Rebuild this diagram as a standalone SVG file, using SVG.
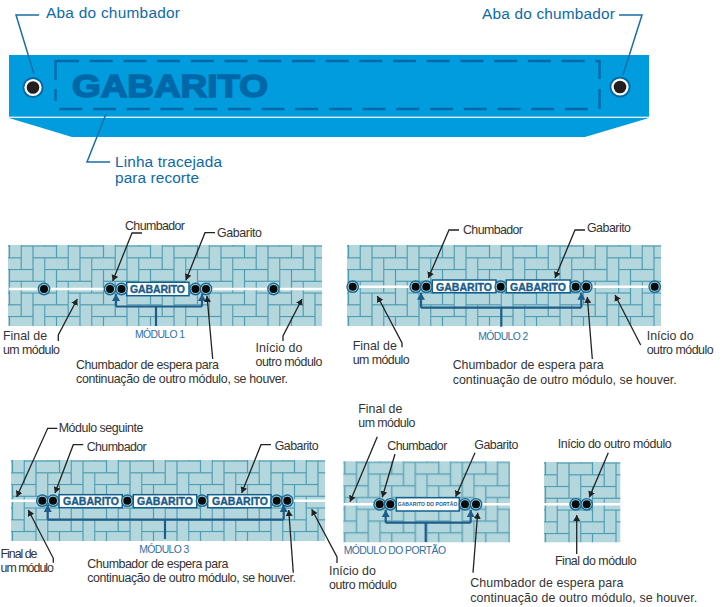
<svg xmlns="http://www.w3.org/2000/svg" width="728" height="607" viewBox="0 0 728 607">
<style>
text{font-family:"Liberation Sans",Arial,sans-serif}
.b{font-size:15.4px;fill:#0f69a8}
.k{font-size:12.4px;fill:#333}
.m{font-size:10.4px;fill:#2f6f9f}
.g{font-size:10.5px;font-weight:bold;fill:#1a5c8a;stroke:#1a5c8a;stroke-width:.35}
.box{fill:#fff;stroke:#125f8c;stroke-width:1.5}
.pave{fill:url(#bricks);filter:url(#soft)}
.wl{stroke:#fff;stroke-width:2.6;fill:none}
.lb{fill:none;stroke:#1a6ea8;stroke-width:1.5}
.lk{fill:none;stroke:#222;stroke-width:1.3;marker-end:url(#tip)}
.br{fill:none;stroke:#1f5c8a;stroke-width:2.2}
.ba{fill:none;stroke:#1f5c8a;stroke-width:2.2;marker-end:url(#btip)}
.dash{fill:none;stroke:#0068a8;stroke-width:2.4}
</style>
<defs>
<filter id="soft" x="0" y="0" width="1" height="1"><feGaussianBlur stdDeviation="0.45"/></filter>
<marker id="tip" markerUnits="userSpaceOnUse" markerWidth="8" markerHeight="8" refX="6" refY="3.5" orient="auto"><path d="M0 0L6 3.5L0 7Z" fill="#222"/></marker>
<marker id="btip" markerUnits="userSpaceOnUse" markerWidth="9" markerHeight="9" refX="7" refY="4" orient="auto"><path d="M0 0L7 4L0 8Z" fill="#1f5c8a"/></marker>
<pattern id="bricks" patternUnits="userSpaceOnUse" width="47" height="47" patternTransform="translate(25 1)">
<rect width="47" height="47" fill="#4f9db3"/>
<g fill="#b4d6dd">
<rect x=".6" y=".6" width="22.3" height="10.6"/>
<rect x="12.3" y="12.4" width="22.3" height="10.6"/>
<rect x="24.1" y="24.1" width="22.3" height="10.6"/>
<rect x="35.8" y="35.9" width="22.3" height="10.6"/>
<rect x="-11.2" y="35.9" width="22.3" height="10.6"/>
<rect x=".6" y="12.4" width="10.6" height="22.3"/>
<rect x="12.3" y="24.1" width="10.6" height="22.3"/>
<rect x="24.1" y="35.9" width="10.6" height="22.3"/>
<rect x="24.1" y="-11.1" width="10.6" height="22.3"/>
<rect x="35.8" y=".6" width="10.6" height="22.3"/>
</g>
</pattern>
<g id="bolt"><circle r="6.4" fill="#176a96"/><circle r="5" fill="#9fd0de"/><circle r="4" fill="#0a0a0a"/></g>
</defs>

<g id="gabarito-template">
<path d="M9 55H649V117H9Z" fill="#009cdd"/>
<path d="M9 118H649L585 137H72Z" fill="#009cdd"/>
<path d="M9 117H649" stroke="#a9def5" stroke-width="1"/>
<path class="dash" d="M56 61H600" stroke-dasharray="23 10.7"/>
<path class="dash" d="M59.3 109H598" stroke-dasharray="23 10.7"/>
<path class="dash" d="M55.5 60V80M55.5 89V101"/>
<path class="dash" d="M599.5 60V79M599.5 89V109"/>
<text x="72" y="97" font-size="32" font-weight="bold" fill="#0068a8" stroke="#0068a8" stroke-width="1.6" textLength="196" lengthAdjust="spacingAndGlyphs">GABARITO</text>
<circle cx="33" cy="87.5" r="10.5" fill="#0068a8"/><circle cx="33" cy="87.5" r="8.6" fill="#fff"/><circle cx="33" cy="87.5" r="6.3" fill="#231f20"/>
<circle cx="620" cy="87" r="10.5" fill="#0068a8"/><circle cx="620" cy="87" r="8.6" fill="#fff"/><circle cx="620" cy="87" r="6.3" fill="#231f20"/>
<text class="b" x="46" y="18" textLength="134">Aba do chumbador</text>
<text class="b" x="482" y="19" textLength="133">Aba do chumbador</text>
<text class="b" x="115" y="167" textLength="107">Linha tracejada</text>
<text class="b" x="115" y="183" textLength="84">para recorte</text>
</g>

<g id="modulo-1">
<g transform="translate(8 245)"><rect class="pave" width="314" height="81"/></g>
<path class="wl" d="M9 289H322"/>
<rect class="box" x="126.7" y="282.3" width="62.3" height="13.4"/>
<text class="g" x="130" y="293" textLength="55">GABARITO</text>
<use href="#bolt" x="44" y="289"/><use href="#bolt" x="110" y="289"/><use href="#bolt" x="121.5" y="289"/><use href="#bolt" x="195.5" y="289"/><use href="#bolt" x="206" y="289"/><use href="#bolt" x="273.5" y="289"/>
<text class="m" x="135" y="338" textLength="50">MÓDULO 1</text>
<text class="k" x="125" y="230" textLength="60">Chumbador</text>
<text class="k" x="217" y="237" textLength="45">Gabarito</text>
<text class="k" x="3" y="340">Final de</text>
<text class="k" x="3" y="354" textLength="57">um módulo</text>
<text class="k" x="255.5" y="352">Início do</text>
<text class="k" x="255.5" y="366" textLength="67">outro módulo</text>
<text class="k" x="76" y="369" textLength="143">Chumbador de espera para</text>
<text class="k" x="76" y="383" textLength="212">continuação de outro módulo, se houver.</text>
</g>

<g id="modulo-2">
<g transform="translate(347 245)"><rect class="pave" width="314" height="81"/></g>
<path class="wl" d="M359 286.7H650"/>
<rect class="box" x="432.3" y="280" width="63.7" height="12.7"/>
<rect class="box" x="506.3" y="280" width="64" height="12.7"/>
<text class="g" x="436" y="290.5" textLength="56">GABARITO</text>
<text class="g" x="510" y="290.5" textLength="56">GABARITO</text>
<use href="#bolt" x="352.7" y="286.7"/><use href="#bolt" x="415.7" y="286.7"/><use href="#bolt" x="426.3" y="286.7"/><use href="#bolt" x="500.7" y="286.7"/><use href="#bolt" x="575.7" y="286.7"/><use href="#bolt" x="586.3" y="286.7"/><use href="#bolt" x="654.7" y="286.7"/>
<text class="m" x="478.3" y="340" textLength="50">MÓDULO 2</text>
<text class="k" x="463" y="234" textLength="60">Chumbador</text>
<text class="k" x="587" y="232" textLength="44">Gabarito</text>
<text class="k" x="352.7" y="350">Final de</text>
<text class="k" x="352.7" y="364" textLength="57">um módulo</text>
<text class="k" x="646.7" y="340">Início do</text>
<text class="k" x="646.7" y="354" textLength="67">outro módulo</text>
<text class="k" x="452.7" y="369" textLength="151">Chumbador de espera para</text>
<text class="k" x="452.7" y="384" textLength="224">continuação de outro módulo, se houver.</text>
</g>

<g id="modulo-3">
<g transform="translate(11 460)"><rect class="pave" width="314" height="81"/></g>
<path class="wl" d="M11 500.7H325"/>
<rect class="box" x="59" y="494.7" width="63.3" height="13"/>
<rect class="box" x="133.3" y="494.7" width="63.4" height="13"/>
<rect class="box" x="207.7" y="494.7" width="63.3" height="13"/>
<text class="g" x="63" y="505.2" textLength="56">GABARITO</text>
<text class="g" x="137" y="505.2" textLength="56">GABARITO</text>
<text class="g" x="212" y="505.2" textLength="56">GABARITO</text>
<use href="#bolt" x="42.3" y="500.7"/><use href="#bolt" x="53" y="500.7"/><use href="#bolt" x="127.3" y="500.7"/><use href="#bolt" x="202" y="500.7"/><use href="#bolt" x="276.7" y="500.7"/><use href="#bolt" x="287.3" y="500.7"/>
<text class="m" x="139.3" y="553" textLength="50">MÓDULO 3</text>
<text class="k" x="58.7" y="432" textLength="84.6">Módulo seguinte</text>
<text class="k" x="86.7" y="451" textLength="60">Chumbador</text>
<text class="k" x="274.7" y="450" textLength="44">Gabarito</text>
<text class="k" x="0.5" y="558" textLength="37">Final de</text>
<text class="k" x="0.5" y="572" textLength="53.5">um módulo</text>
<text class="k" x="329" y="575">Início do</text>
<text class="k" x="329" y="589" textLength="68">outro módulo</text>
<text class="k" x="87.3" y="568" textLength="141">Chumbador de espera para</text>
<text class="k" x="87.3" y="582" textLength="208.7">continuação de outro módulo, se houver.</text>
</g>

<g id="modulo-portao">
<g transform="translate(343.3 461.3)"><rect class="pave" width="166.7" height="81"/></g>
<path class="wl" d="M343.3 504.3H510"/>
<rect class="box" x="396.3" y="497.7" width="63" height="13.3"/>
<text x="397.7" y="506.3" font-size="5" font-weight="bold" fill="#1a5c8a" textLength="59.6">GABARITO DO PORTÃO</text>
<use href="#bolt" x="379.7" y="504.3"/><use href="#bolt" x="390.3" y="504.3"/><use href="#bolt" x="465" y="504.3"/><use href="#bolt" x="476" y="504.3"/>
<text class="m" x="343.7" y="554.3" textLength="102.3">MÓDULO DO PORTÃO</text>
<text class="k" x="358.3" y="413.3">Final de</text>
<text class="k" x="358.3" y="427.3" textLength="57">um módulo</text>
<text class="k" x="387.3" y="450" textLength="60">Chumbador</text>
<text class="k" x="474.3" y="449.3" textLength="44">Gabarito</text>
<text class="k" x="470.3" y="587.3" textLength="153">Chumbador de espera para</text>
<text class="k" x="470.3" y="601.7" textLength="227">continuação de outro módulo, se houver.</text>
</g>

<g id="modulo-final">
<g transform="translate(544 462)"><rect class="pave" width="76.3" height="80.3"/></g>
<path class="wl" d="M544 504.3H620.3"/>
<use href="#bolt" x="575.7" y="504.3"/><use href="#bolt" x="586.7" y="504.3"/>
<text class="k" x="557.7" y="447.7" textLength="114">Início do outro módulo</text>
<text class="k" x="555" y="564.7" textLength="81.7">Final do módulo</text>
</g>

<g id="connectors">
<path class="lb" d="M39 15H16L34 74"/>
<path class="lb" d="M619 15H642L623 75"/>
<path class="lb" d="M106 114L87 162H110"/>

<path class="br" d="M156 306.5V326M116 306.5H202"/>
<path class="ba" d="M116 306.5V294"/>
<path class="ba" d="M202 306.5V294"/>
<path class="lk" d="M142 233H132L112.7 281"/>
<path class="lk" d="M215 232.7H205L186 280"/>
<path class="lk" d="M58.3 341V335L77.3 299"/>
<path class="lk" d="M283 341V336L302 299"/>
<path class="lk" d="M212.7 359L207 296"/>

<path class="br" d="M501.3 307.7V326.7M421 307.7H581.3"/>
<path class="ba" d="M421 307.7V292.7"/>
<path class="ba" d="M581.3 307.7V292.7"/>
<path class="lk" d="M459 230H449L428.3 278"/>
<path class="lk" d="M585 230H575L555 278"/>
<path class="lk" d="M402 347.3V343L377.3 296"/>
<path class="lk" d="M640.7 345L615 295"/>
<path class="lk" d="M592.3 359L587.3 297"/>

<path class="br" d="M165 519.7V539M47.7 519.7H283.7"/>
<path class="ba" d="M47.7 519.7V505"/>
<path class="ba" d="M283.7 519.7V505"/>
<path class="lk" d="M57.3 428.3H47.7L16.7 497"/>
<path class="lk" d="M83.3 444.7H73.3L55 493"/>
<path class="lk" d="M271 444.7H261L241.7 493"/>
<path class="lk" d="M53.3 562.7V558.3L28.3 510"/>
<path class="lk" d="M337 563V557L311.7 509.3"/>
<path class="lk" d="M293.3 572.7L288.7 510"/>

<path class="br" d="M425.7 522.7V542M385.7 522.7H470.7"/>
<path class="ba" d="M385.7 522.7V510"/>
<path class="ba" d="M470.7 522.7V510"/>
<path class="lk" d="M377.3 436.7L350 501.7"/>
<path class="lk" d="M395 454L382.3 497.3"/>
<path class="lk" d="M475 452.7L455.7 496.7"/>
<path class="lk" d="M473 572.7L477.7 512.7"/>

<path class="lk" d="M608.3 452.7L589.3 497.3"/>
<path class="lk" d="M576.7 554V515"/>
</g>
</svg>
